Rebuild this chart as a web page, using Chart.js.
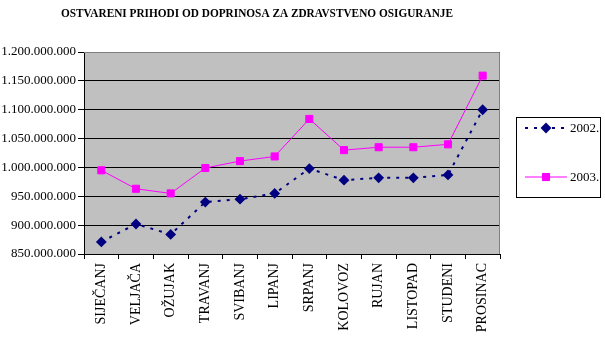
<!DOCTYPE html>
<html lang="hr">
<head>
<meta charset="UTF-8">
<title>Ostvareni prihodi od doprinosa</title>
<script src="https://cdn.jsdelivr.net/npm/chart.js"></script>
<style>
    html, body { margin: 0; padding: 0; background: #fff; }
    .wrap { width: 605px; height: 338px; position: relative; }
</style>
</head>
<body>
<div class="wrap"><canvas id="chart"></canvas></div>
<script>
// podaci
const mjeseci = ['SIJEČANJ', 'VELJAČA', 'OŽUJAK', 'TRAVANJ', 'SVIBANJ', 'LIPANJ', 'SRPANJ', 'KOLOVOZ', 'RUJAN', 'LISTOPAD', 'STUDENI', 'PROSINAC'];
const god2002 = [871000000, 902000000, 884000000, 940000000, 945000000, 955000000, 998000000, 978000000, 982000000, 982000000, 987000000, 1100000000];
const god2003 = [995000000, 963000000, 955000000, 999000000, 1011000000, 1019000000, 1084000000, 1030000000, 1035000000, 1035000000, 1040000000, 1159000000];
const naslov = 'OSTVARENI PRIHODI OD DOPRINOSA ZA ZDRAVSTVENO OSIGURANJE';

const serif = "'Liberation Serif', 'Times New Roman', serif";

function formatBroj(v) {
    return String(Math.round(v)).replace(/\B(?=(\d{3})+(?!\d))/g, '.');
}

// siva pozadina, naslov i legenda
const excelPlugin = {
    id: 'excel',
    beforeDraw(chart) {
        const a = chart.chartArea, c = chart.ctx;
        c.save();
        c.fillStyle = '#c0c0c0';
        c.fillRect(a.left, a.top, a.right - a.left, a.bottom - a.top);
        c.restore();
    },
    afterDraw(chart) {
        const a = chart.chartArea, c = chart.ctx;
        c.save();
        // okvir gore/desno
        c.strokeStyle = '#808080';
        c.lineWidth = 1;
        c.beginPath();
        c.moveTo(a.left, a.top + 0.5);
        c.lineTo(a.right - 0.5, a.top + 0.5);
        c.lineTo(a.right - 0.5, a.bottom);
        c.stroke();

        // naslov
        c.fillStyle = '#000';
        c.font = 'bold 13px ' + serif;
        c.textAlign = 'center';
        c.textBaseline = 'middle';
        c.fillText(naslov, 257, 14, 392);

        // legenda
        c.fillStyle = '#fff';
        c.fillRect(516, 117, 85, 81);
        c.strokeStyle = '#000';
        c.strokeRect(516.5, 117.5, 84, 80);
        const redovi = [
            { ds: chart.data.datasets[0], y: 128 },
            { ds: chart.data.datasets[1], y: 177 }
        ];
        redovi.forEach(r => {
            c.strokeStyle = r.ds.borderColor;
            c.lineWidth = r.ds.borderWidth;
            c.lineCap = 'butt';
            c.setLineDash(r.ds.borderDash || []);
            c.beginPath();
            c.moveTo(525, r.y);
            c.lineTo(567, r.y);
            c.stroke();
            c.setLineDash([]);
            Chart.helpers.drawPoint(c, {
                pointStyle: r.ds.pointStyle,
                radius: r.ds.pointRadius,
                borderWidth: 1,
                rotation: 0
            }, 546, r.y);
            c.fillStyle = r.ds.pointBackgroundColor;
            c.fill();
            c.fillStyle = '#000';
            c.font = '13px ' + serif;
            c.textAlign = 'left';
            c.fillText(r.ds.label, 570, r.y + 1);
        });
        c.restore();
    }
};

new Chart(document.getElementById('chart'), {
    type: 'line',
    data: {
        labels: mjeseci,
        datasets: [
            {
                label: '2002.',
                data: god2002,
                borderColor: '#000080',
                backgroundColor: '#000080',
                borderWidth: 2,
                borderDash: [3, 6],
                borderCapStyle: 'butt',
                pointStyle: 'rectRot',
                pointRadius: 4,
                pointBackgroundColor: '#000080',
                pointBorderColor: '#000080',
                tension: 0
            },
            {
                label: '2003.',
                data: god2003,
                borderColor: '#ff00ff',
                backgroundColor: '#ff00ff',
                borderWidth: 1,
                pointStyle: 'rect',
                pointRadius: 5,
                pointBackgroundColor: '#ff00ff',
                pointBorderColor: '#ff00ff',
                tension: 0
            }
        ]
    },
    options: {
        responsive: true,
        maintainAspectRatio: false,
        animation: false,
        layout: { padding: { top: 52, right: 105, left: 0, bottom: 0 } },
        plugins: {
            legend: { display: false },
            title: { display: false },
            tooltip: { enabled: false }
        },
        scales: {
            x: {
                offset: true,
                grid: {
                    offset: true,
                    drawOnChartArea: false,
                    tickLength: 5,
                    color: '#000'
                },
                border: { color: '#000', width: 1 },
                ticks: {
                    color: '#000',
                    font: { family: serif, size: 14 },
                    minRotation: 90,
                    maxRotation: 90,
                    autoSkip: false,
                    padding: 4
                },
                afterFit(s) { s.height = 84; }
            },
            y: {
                min: 850000000,
                max: 1200000000,
                grid: {
                    color: '#000',
                    tickLength: 6
                },
                border: { color: '#000', width: 1 },
                ticks: {
                    stepSize: 50000000,
                    color: '#000',
                    font: { family: serif, size: 13 },
                    padding: 2,
                    callback: v => formatBroj(v)
                },
                afterFit(s) { s.width = 84; }
            }
        }
    },
    plugins: [excelPlugin]
});
</script>
</body>
</html>
